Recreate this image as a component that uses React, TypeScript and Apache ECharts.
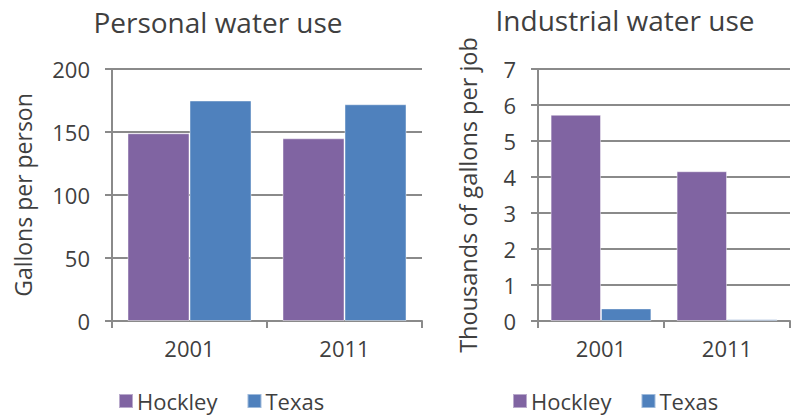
import React, { useEffect, useRef } from "react";
import * as echarts from "echarts";

const years = ["2001", "2011"];
const seriesNames = ["Hockley", "Texas"];
const personalHockley = [149, 145];
const personalTexas = [175, 172];
const industrialHockley = [5.73, 4.16];
const industrialTexas = [0.35, 0.05];
const personalTicks = { min: 0, max: 200, interval: 50 };
const industrialTicks = { min: 0, max: 7, interval: 1 };

const PURPLE = "#8064A2";
const BLUE = "#4F81BD";
const GRAY = "#8a8a8a";
const TEXT = "#3f3f3f";
const FONT = "'Open Sans', 'DejaVu Sans', sans-serif";

export default function App() {
  const ref = useRef<HTMLDivElement>(null);
  useEffect(() => {
    document.body.style.margin = "0";
    const chart = echarts.init(ref.current!, null, { renderer: "svg" });
    const axisCommon = (idx: number) => ({
      gridIndex: idx,
      axisLine: { show: true, lineStyle: { color: GRAY, width: 2 } },
      axisTick: { show: true, length: 7, lineStyle: { color: GRAY, width: 2 } },
    });
    const catAxis = (idx: number) => ({
      ...axisCommon(idx),
      type: "category",
      data: years,
      axisTick: { show: true, alignWithLabel: false, length: 7, lineStyle: { color: GRAY, width: 2 } },
      axisLabel: { color: TEXT, fontFamily: FONT, fontSize: 22, margin: 16 },
    });
    const valAxis = (idx: number, ticks: any, name: string, gap: number, size: number) => ({
      ...axisCommon(idx),
      type: "value",
      min: ticks.min,
      max: ticks.max,
      interval: ticks.interval,
      name,
      nameLocation: "middle",
      nameGap: gap,
      nameTextStyle: { color: TEXT, fontFamily: FONT, fontSize: size },
      axisLabel: { color: TEXT, fontFamily: FONT, fontSize: 22, margin: 22 },
      splitLine: { show: true, lineStyle: { color: GRAY, width: 2 } },
    });
    const barStyle = (c: string) => ({
      color: c,
      borderColor: "rgba(255,255,255,0.45)",
      borderWidth: 1,
    });
    const legendCommon = {
      data: seriesNames,
      top: 390,
      padding: 0,
      itemWidth: 14,
      itemHeight: 14,
      itemGap: 29,
      icon: "rect",
      textStyle: { color: TEXT, fontFamily: FONT, fontSize: 22, lineHeight: 22, padding: [0, 0, 0, -1] },
    };
    chart.setOption({
      animation: false,
      textStyle: { fontFamily: FONT },
      title: [
        {
          text: "Personal water use",
          left: 213,
          top: 3,
          textAlign: "center",
          textStyle: { color: TEXT, fontFamily: FONT, fontSize: 28, fontWeight: "normal" },
        },
        {
          text: "Industrial water use",
          left: 620,
          top: 0,
          textAlign: "center",
          textStyle: { color: TEXT, fontFamily: FONT, fontSize: 28, fontWeight: "normal", lineHeight: 30 },
        },
      ],
      legend: [
        { ...legendCommon, left: 118 },
        { ...legendCommon, left: 512 },
      ],
      grid: [
        { left: 112, top: 69, width: 310, height: 252 },
        { left: 538, top: 69, width: 252, height: 252 },
      ],
      xAxis: [catAxis(0), catAxis(1)],
      yAxis: [
        valAxis(0, personalTicks, "Gallons per person", 78, 23),
        valAxis(1, industrialTicks, "Thousands of gallons per job", 58, 23.5),
      ],
      series: [
        { name: seriesNames[0], type: "bar", xAxisIndex: 0, yAxisIndex: 0, data: personalHockley, barGap: "0%", barCategoryGap: "20%", itemStyle: barStyle(PURPLE) },
        { name: seriesNames[1], type: "bar", xAxisIndex: 0, yAxisIndex: 0, data: personalTexas, barGap: "0%", barCategoryGap: "20%", itemStyle: barStyle(BLUE) },
        { name: seriesNames[0], type: "bar", xAxisIndex: 1, yAxisIndex: 1, data: industrialHockley, barGap: "0%", barCategoryGap: "20%", itemStyle: barStyle(PURPLE) },
        { name: seriesNames[1], type: "bar", xAxisIndex: 1, yAxisIndex: 1, data: industrialTexas, barGap: "0%", barCategoryGap: "20%", itemStyle: barStyle(BLUE) },
      ],
    });
    return () => chart.dispose();
  }, []);
  return <div ref={ref} style={{ width: 797, height: 419 }} />;
}
